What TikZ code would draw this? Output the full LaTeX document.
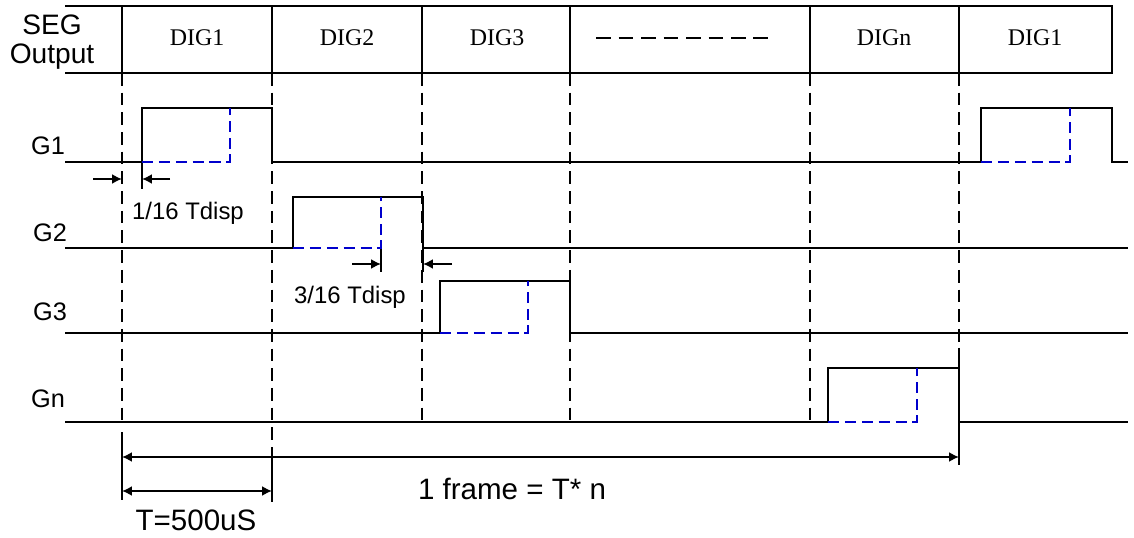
\documentclass[tikz,border=0pt]{standalone}
\usepackage{fontspec}
\setmainfont{Liberation Sans}
\newfontfamily\digfont{Liberation Serif}
\usetikzlibrary{arrows.meta}

\tikzset{
    wave/.style={line width=1.3pt},
    gridline/.style={line width=1.2pt, dash pattern=on 9pt off 5pt},
    bluedash/.style={blue!80!black, line width=1.3pt, dash pattern=on 8pt off 4pt},
    dimarrow/.style={line width=1.2pt, -{Latex[length=7pt,width=7pt]}},
    dimboth/.style={line width=1.2pt, {Latex[length=7pt,width=7pt]}-{Latex[length=7pt,width=7pt]}},
    siglabel/.style={font=\fontsize{18}{20}\selectfont},
    diglabel/.style={font=\digfont\fontsize{17}{19}\selectfont},
    notelabel/.style={font=\fontsize{17}{19}\selectfont},
    biglabel/.style={font=\fontsize{21}{23}\selectfont}
}

\begin{document}
\begin{tikzpicture}[x=0.025cm, y=-0.025cm]
    \useasboundingbox (0,0) rectangle (1134,538);

    % Header
    \draw[wave] (65,6) -- (1112,6) -- (1112,73) -- (65,73);
    \foreach \x in {122,272,422,570,810,959}
        \draw[wave] (\x,6) -- (\x,73);
    \node[font=\fontsize{20}{21}\selectfont, align=center] (seg) at (52,42) {SEG\\Output};
    \foreach \x/\t/\n in {197/DIG1/dig1, 347/DIG2/dig2, 497/DIG3/dig3, 884/DIGn/dign, 1035/DIG1/dignext}
        \node[diglabel] (\n) at (\x,38) {\t};
    \draw[gridline, dash pattern=on 10.5pt off 5.5pt] (596,38) -- (772,38);

    % Time slots
    \foreach \x in {122,422,570,810,959}
        \draw[gridline] (\x,73) -- (\x,427);
    \draw[gridline] (272,73) -- (272,455);
    \draw[wave] (122,432) -- (122,500);
    \draw[wave] (272,455) -- (272,502);

    % Signal labels
    \node[siglabel] (g1) at (48,146) {G1};
    \node[siglabel] (g2) at (50,233) {G2};
    \node[siglabel] (g3) at (50,312) {G3};
    \node[siglabel] (gn) at (48,399) {Gn};

    % G1
    \draw[wave] (65,162) -- (142,162) -- (142,108) -- (272,108) -- (272,162)
        -- (981,162) -- (981,108) -- (1112,108) -- (1112,162) -- (1128,162);
    \draw[wave] (142,162) -- (142,189);
    \draw[bluedash] (142,162) -- (230,162) -- (230,108);
    \draw[bluedash] (981,162) -- (1070,162) -- (1070,108);

    % G2
    \draw[wave] (65,248) -- (293,248) -- (293,197) -- (423,197) -- (423,248) -- (1128,248);
    \draw[wave] (423,248) -- (423,272);
    \draw[wave] (381,248) -- (381,272);
    \draw[bluedash] (293,248) -- (381,248) -- (381,197);

    % G3
    \draw[wave] (65,333) -- (440,333) -- (440,281) -- (570,281) -- (570,333) -- (1128,333);
    \draw[bluedash] (440,333) -- (528,333) -- (528,281);

    % Gn
    \draw[wave] (65,422) -- (828,422) -- (828,368) -- (959,368) -- (959,422) -- (1128,422);
    \draw[wave] (959,348) -- (959,465);
    \draw[bluedash] (828,422) -- (917,422) -- (917,368);

    % Dead time arrows
    \coordinate (d1a) at (93,179);
    \coordinate (d1b) at (122,179);
    \coordinate (d1c) at (170,179);
    \coordinate (d1d) at (142,179);
    \draw[dimarrow] (d1a) -- (d1b);
    \draw[dimarrow] (d1c) -- (d1d);
    \node[notelabel] (dead1) at (188,213) {1/16 Tdisp};

    \coordinate (d3a) at (352,264);
    \coordinate (d3b) at (381,264);
    \coordinate (d3c) at (452,264);
    \coordinate (d3d) at (423,264);
    \draw[dimarrow] (d3a) -- (d3b);
    \draw[dimarrow] (d3c) -- (d3d);
    \node[notelabel] (dead3) at (350,297) {3/16 Tdisp};

    % Frame and period
    \coordinate (fs) at (122,457);
    \coordinate (fe) at (959,457);
    \draw[dimboth] (fs) -- (fe);
    \node[biglabel] (frame) at (512,489) {1 frame = T* n};

    \coordinate (ts) at (122,491);
    \coordinate (te) at (272,491);
    \draw[dimboth] (ts) -- (te);
    \node[biglabel] (period) at (196,520) {T=500uS};
\end{tikzpicture}
\end{document}
